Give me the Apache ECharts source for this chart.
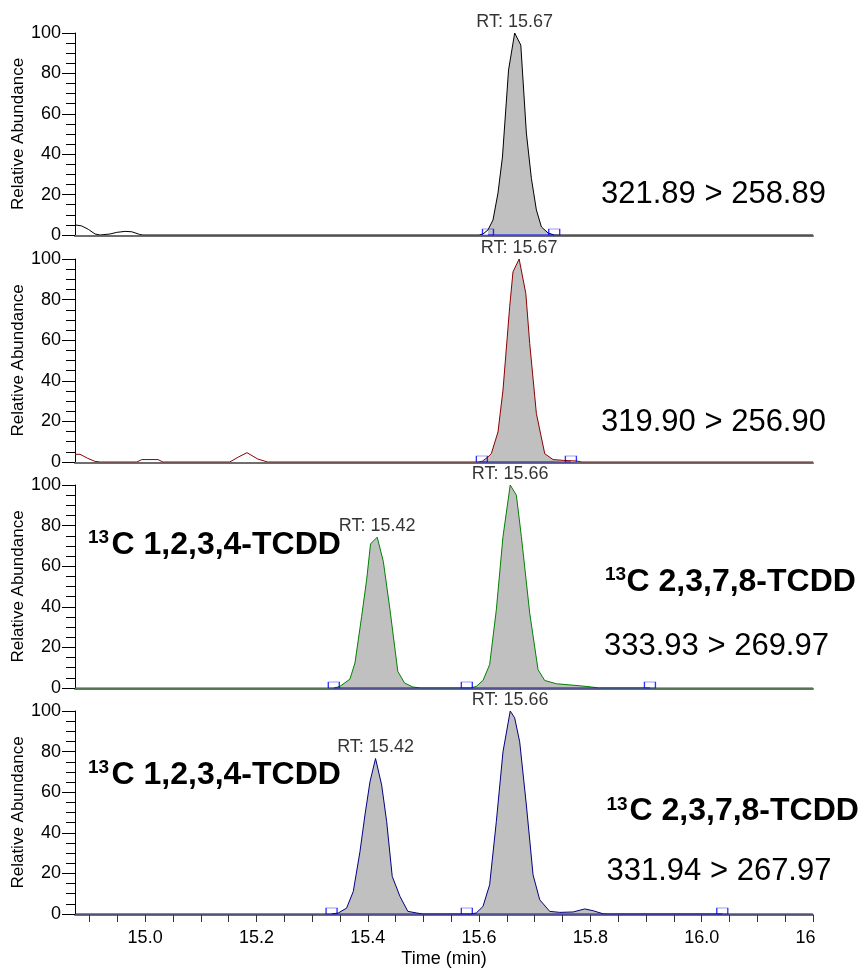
<!DOCTYPE html>
<html>
<head>
<meta charset="utf-8">
<script src="https://cdn.jsdelivr.net/npm/echarts@6/dist/echarts.min.js"></script>
<style>html,body{margin:0;padding:0;background:#fff}#c{width:862px;height:969px}</style>
</head>
<body>
<div id="c"></div>
<script>
// ---- data (time in min, relative abundance in %) ----
const trace1 = [[14.874,5],[14.886,4.5],[14.898,2.8],[14.910,0.5],[14.919,0],[14.937,0.5],[14.949,1.3],[14.964,1.8],[14.976,1.6],[14.990,0.3],[14.996,0],[15.600,0],[15.607,0.5],[15.616,2.5],[15.625,7.4],[15.634,20.8],[15.642,38.6],[15.653,81.7],[15.664,100],[15.675,94],[15.685,50.5],[15.694,28],[15.703,12.4],[15.712,4],[15.724,1],[15.735,0],[16.2,0]];
const trace2 = [[14.874,3.8],[14.883,3.8],[14.897,1.8],[14.910,0.3],[14.920,0],[14.985,0],[14.994,1.2],[15.023,1.2],[15.032,0],[15.152,0],[15.168,2.5],[15.183,4.6],[15.202,1.5],[15.220,0],[15.598,0],[15.606,0.4],[15.616,2.5],[15.622,4.1],[15.634,14.8],[15.643,35.4],[15.655,76.5],[15.661,93.7],[15.672,100],[15.684,83],[15.691,58.4],[15.703,23.9],[15.718,4.1],[15.733,1.2],[15.751,0.8],[15.775,0.5],[15.785,0],[16.2,0]];
const trace3 = [[14.874,0],[15.340,0],[15.350,0.8],[15.368,4.4],[15.377,12.3],[15.389,35.2],[15.398,53.3],[15.405,71],[15.417,74.3],[15.428,62.3],[15.440,38.5],[15.454,8.2],[15.466,2.5],[15.481,0.5],[15.495,0],[15.585,0],[15.595,0.8],[15.607,3.7],[15.619,11.5],[15.631,38.5],[15.643,74.6],[15.656,100],[15.667,95],[15.676,74.6],[15.691,36.9],[15.706,9],[15.718,3.7],[15.739,2.1],[15.760,1.6],[15.781,1.1],[15.802,0.5],[15.815,0],[16.2,0]];
const trace4 = [[14.874,0],[15.335,0],[15.347,0.5],[15.362,2.9],[15.374,11.1],[15.386,30.7],[15.395,48.8],[15.404,65.1],[15.414,76.6],[15.425,63.5],[15.434,45.5],[15.444,18.5],[15.458,8.6],[15.472,1.3],[15.488,0.5],[15.499,0],[15.585,0],[15.595,0.5],[15.607,3.7],[15.619,14.4],[15.631,45.5],[15.643,79.9],[15.656,100],[15.664,96.6],[15.673,84.8],[15.685,53.7],[15.697,19.3],[15.709,7],[15.727,1.3],[15.745,0.8],[15.769,1],[15.790,2.5],[15.805,1.6],[15.823,0.1],[15.830,0],[16.2,0]];

const marks1 = [15.616, 15.735];
const marks2 = [15.605, 15.765];
const marks3 = [15.339, 15.578, 15.907];
const marks4 = [15.335, 15.578, 16.037];

const rt1 = [[15.664, 100, 'RT: 15.67']];
const rt2 = [[15.672, 100, 'RT: 15.67']];
const rt3 = [[15.417, 74.3, 'RT: 15.42'], [15.656, 100, 'RT: 15.66']];
const rt4 = [[15.414, 76.6, 'RT: 15.42'], [15.656, 100, 'RT: 15.66']];

const xTickValues = [14.9,14.95,15.0,15.05,15.1,15.15,15.2,15.25,15.3,15.35,15.4,15.45,15.5,15.55,15.6,15.65,15.7,15.75,15.8,15.85,15.9,15.95,16.0,16.05,16.1,16.15,16.2];
const xLabelValues = [15.0,15.2,15.4,15.6,15.8,16.0,16.2];

const transitions = ['321.89 > 258.89', '319.90 > 256.90', '333.93 > 269.97', '331.94 > 267.97'];
const compoundA = 'C 1,2,3,4-TCDD';
const compoundB = 'C 2,3,7,8-TCDD';
const isotope = '13';
const yTitle = 'Relative Abundance';
const xTitle = 'Time (min)';

// ---- layout ----
const FONT = "'Liberation Sans', Arial, sans-serif";
const traces = [trace1, trace2, trace3, trace4];
const marks = [marks1, marks2, marks3, marks4];
const rts = [rt1, rt2, rt3, rt4];
const colors = ['#000000', '#8b0000', '#008000', '#000080'];
const tops = [33, 259, 485, 711];
const heights = [202, 203, 203, 203];
const XMIN = 14.874, XMAX = 16.2;

const grids = [], xAxes = [], yAxes = [], series = [];
for (let i = 0; i < 4; i++) {
  grids.push({ left: 75, right: 49, top: tops[i], height: heights[i], containLabel: false, outerBoundsMode: 'none' });
  const last = i === 3;
  xAxes.push({
    type: 'value', gridIndex: i, min: XMIN, max: XMAX, offset: 1,
    axisLine: { show: true, onZero: false, lineStyle: { color: '#6e6e6e', width: 2 } },
    axisTick: last ? { show: true, customValues: xTickValues, length: 7, lineStyle: { color: '#333' } } : { show: false },
    axisLabel: last ? {
      show: true, customValues: xLabelValues, fontSize: 18, fontFamily: FONT, color: '#000', margin: 14,
      formatter: v => Math.abs(v - 16.2) < 1e-6 ? '{c|16}' : v.toFixed(1),
      rich: { c: { fontSize: 18, fontFamily: FONT, color: '#000', padding: [0, 15, 0, 0] } }
    } : { show: false },
    splitLine: { show: false },
    name: last ? xTitle : '', nameLocation: 'middle', nameGap: 35,
    nameTextStyle: { fontSize: 18, fontFamily: FONT, color: '#000' }
  });
  yAxes.push({
    type: 'value', gridIndex: i, min: 0, max: 100, interval: 20,
    axisLine: { show: true, lineStyle: { color: '#000', width: 1 } },
    axisTick: { show: true, length: 13, lineStyle: { color: '#000' } },
    minorTick: { show: true, splitNumber: 4, length: 9, lineStyle: { color: '#000' } },
    axisLabel: { fontSize: 18, fontFamily: FONT, color: '#000', margin: 14 },
    splitLine: { show: false }
  });
  const m = marks[i];
  const a = m[0], b = m[m.length - 1];
  series.push({
    type: 'line', xAxisIndex: i, yAxisIndex: i, z: 2, silent: true,
    data: traces[i].filter(p => p[0] >= a && p[0] <= b),
    showSymbol: false, symbol: 'none',
    lineStyle: { width: 0 }, areaStyle: { color: '#c0c0c0', opacity: 1, origin: 'start' }
  });
  series.push({
    type: 'line', xAxisIndex: i, yAxisIndex: i, z: 3, silent: true,
    data: traces[i], showSymbol: false, symbol: 'none',
    lineStyle: { width: 1, color: colors[i] }
  });
  series.push({
    type: 'line', xAxisIndex: i, yAxisIndex: i, z: 4, silent: true,
    data: [[a, 0], [b, 0]], showSymbol: false, symbol: 'none',
    lineStyle: { width: 1, color: '#0000ff' }
  });
  series.push({
    type: 'scatter', xAxisIndex: i, yAxisIndex: i, z: 5, silent: true,
    data: m.map(t => [t, 0]), symbol: 'rect', symbolSize: [11, 6], symbolOffset: [0, -3],
    itemStyle: { color: 'rgba(0,0,0,0)', borderColor: '#0000ff', borderWidth: 1 }
  });
  series.push({
    type: 'scatter', xAxisIndex: i, yAxisIndex: i, z: 6, silent: true,
    data: rts[i], symbolSize: 0,
    label: { show: true, position: 'top', distance: 2, formatter: p => p.value[2],
      fontSize: 18, fontFamily: FONT, color: '#000' }
  });
}

function txt(x, y, text, size, bold) {
  return { type: 'text', x: x, y: y, silent: true, z: 10,
    style: { text: text, fontSize: size, fontFamily: FONT, fontWeight: bold ? 'bold' : 'normal',
      fill: '#000', align: 'left', verticalAlign: 'middle' } };
}
const graphics = [
  txt(601, 194, transitions[0], 31, false),
  txt(601, 422.5, transitions[1], 31, false),
  txt(88, 538, isotope, 19, true),
  txt(111.5, 545, compoundA, 32, true),
  txt(605, 575, isotope, 19, true),
  txt(626.5, 582, compoundB, 32, true),
  txt(604, 646, transitions[2], 31, false),
  txt(88, 768, isotope, 19, true),
  txt(111.5, 775, compoundA, 32, true),
  txt(606.5, 805, isotope, 19, true),
  txt(629.5, 811.5, compoundB, 32, true),
  txt(606.5, 871, transitions[3], 31, false)
];
for (let i = 0; i < 4; i++) {
  graphics.push({ type: 'text', x: 18.5, y: tops[i] + heights[i] / 2, rotation: Math.PI / 2, silent: true, z: 10,
    style: { text: yTitle, fontSize: 17, fontFamily: FONT, fill: '#000', align: 'center', verticalAlign: 'middle' } });
}

const chart = echarts.init(document.getElementById('c'), null, { renderer: 'canvas' });
chart.setOption({
  animation: false,
  backgroundColor: '#ffffff',
  grid: grids, xAxis: xAxes, yAxis: yAxes, series: series,
  graphic: graphics
});
</script>
</body>
</html>
